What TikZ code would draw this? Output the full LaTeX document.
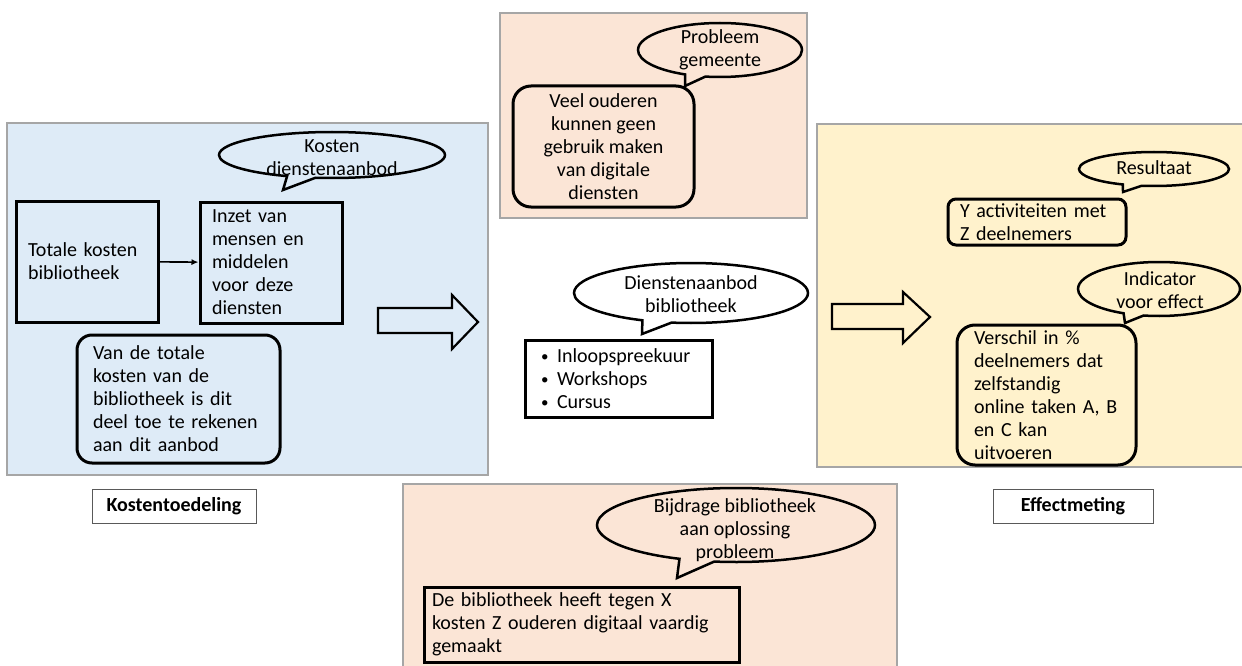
\documentclass[tikz,border=0pt]{standalone}
\usepackage{fontspec}
\setmainfont{Carlito}
\usetikzlibrary{shapes.callouts,arrows.meta}
\definecolor{panelblue}{HTML}{DEEBF7}
\definecolor{panelsalmon}{HTML}{FBE5D6}
\definecolor{panelyellow}{HTML}{FFF2CC}
\definecolor{panelborder}{HTML}{A6A6A6}
\definecolor{labelborder}{HTML}{595959}
\newcommand{\itembullet}{\makebox[17pt][l]{\hspace{1pt}\raisebox{0.5pt}{\fontsize{15}{15}\selectfont\textbullet}}}
\begin{document}
\begin{tikzpicture}[x=1pt,y=-1pt,
  every node/.style={font=\fontsize{20}{23}\selectfont, text=black},
  panel/.style={draw=panelborder, line width=1.3pt},
  box/.style={draw=black, line width=3pt, align=left, inner ysep=1pt},
  rbox/.style={box, rounded corners=#1},
  bubble/.style={ellipse callout, draw=black, line width=2.5pt, inner sep=0pt},
  btext/.style={align=center, inner sep=0pt},
  blockarrow/.style={draw=black, line width=2.2pt, line join=miter},
  tag/.style={draw=labelborder, fill=white, line width=1pt, font=\fontsize{20}{23}\selectfont\bfseries}
]
\useasboundingbox (0,0) rectangle (1242,666);
\fill[white] (0,0) rectangle (1242,666);

% panels
\draw[panel, fill=panelblue] (7,123) rectangle (488,475);
\draw[panel, fill=panelsalmon] (500,13) rectangle (807,218);
\draw[panel, fill=panelyellow] (817,124) rectangle (1260,467);
\draw[panel, fill=panelsalmon] (403,484) rectangle (897,690);

% left panel: Kostentoedeling
\node[box, minimum width=142pt, minimum height=121pt, text width=118pt, inner xsep=12pt] (totale) at (87,261.5) {Totale kosten\\bibliotheek};
\node[box, minimum width=142pt, minimum height=121pt, text width=118pt, inner xsep=12pt] (inzet) at (271,262.5) {Inzet van\\mensen en\\middelen\\voor deze\\diensten};
\draw[line width=1.6pt, -{Latex[length=7pt,width=6pt]}] (totale) -- (inzet);
\node[rbox=15pt, minimum width=203pt, minimum height=128pt, text width=171pt, inner xsep=16pt] (vande) at (178.5,399) {Van de totale\\kosten van de\\bibliotheek is dit\\deel toe te rekenen\\aan dit aanbod};
\node[bubble, minimum width=226pt, minimum height=46pt, callout absolute pointer={(283,190)}] (kostbub) at (332,155) {};
\node[btext] (kostbubtext) at (332,158) {Kosten\\dienstenaanbod};
\draw[blockarrow] (378,308) -- (452,308) -- (452,295) -- (478,322) -- (452,349) -- (452,333) -- (378,333) -- cycle;

% top panel: probleem
\node[bubble, minimum width=164pt, minimum height=54pt, callout absolute pointer={(685,86)}] (probbub) at (720,50) {};
\node[btext] (probbubtext) at (720,50) {Probleem\\gemeente};
\node[rbox=18pt, align=center, minimum width=181pt, minimum height=121pt, inner xsep=6pt] (veel) at (603.5,146.5) {Veel ouderen\\kunnen geen\\gebruik maken\\van digitale\\diensten};

% middle: dienstenaanbod
\node[bubble, minimum width=234pt, minimum height=60pt, callout absolute pointer={(642,334)}] (dienstbub) at (691,293) {};
\node[btext] (dienstbubtext) at (691,294) {Dienstenaanbod\\bibliotheek};
\node[box, minimum width=187pt, minimum height=77pt, text width=157pt, inner xsep=15pt] (bullets) at (618.5,378.5)
  {\itembullet Inloopspreekuur\\\itembullet Workshops\\\itembullet Cursus};
\draw[blockarrow] (832,304) -- (903,304) -- (903,292) -- (930,317) -- (903,343) -- (903,329) -- (832,329) -- cycle;

% right panel: Effectmeting
\node[bubble, minimum width=150pt, minimum height=34pt, callout absolute pointer={(1123,192)}] (resbub) at (1154,169) {};
\node[btext] (resbubtext) at (1154,168) {Resultaat};
\node[rbox=8pt, minimum width=178pt, minimum height=46pt, text width=154pt, inner xsep=12pt] (yact) at (1037,222) {Y activiteiten met\\Z deelnemers};
\node[bubble, minimum width=162pt, minimum height=54pt, callout absolute pointer={(1125,323)}] (indbub) at (1159,289) {};
\node[btext] (indbubtext) at (1160,290) {Indicator\\voor effect};
\node[rbox=18pt, minimum width=179pt, minimum height=140pt, text width=145pt, inner xsep=17pt] (verschil) at (1046.5,395) {Verschil in \%\\deelnemers dat\\zelfstandig\\online taken A, B\\en C kan\\uitvoeren};

% bottom panel: bijdrage
\node[bubble, minimum width=278pt, minimum height=74pt, callout absolute pointer={(677,578)}] (bijbub) at (736,525) {};
\node[btext] (bijbubtext) at (735,530) {Bijdrage bibliotheek\\aan oplossing\\probleem};
\node[box, minimum width=315pt, minimum height=75pt, text width=299pt, inner xsep=8pt] (debib) at (581.5,624.5) {De bibliotheek heeft tegen X\\kosten Z ouderen digitaal vaardig\\gemaakt};

% labels
\node[tag, minimum width=164pt, minimum height=34pt] (kostlabel) at (174,506) {Kostentoedeling};
\node[tag, minimum width=160pt, minimum height=34pt] (effectlabel) at (1073,506) {Effectmeting};
\end{tikzpicture}
\end{document}
